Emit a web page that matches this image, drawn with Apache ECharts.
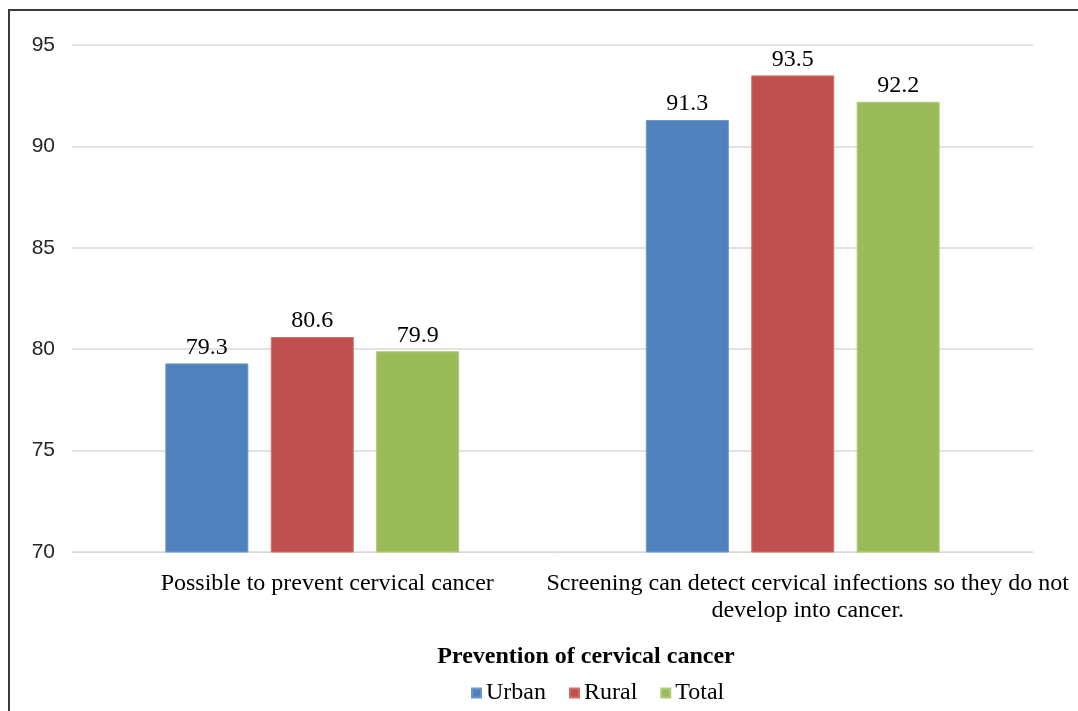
<!DOCTYPE html>
<html>
<head>
<meta charset="utf-8">
<script src="https://cdn.jsdelivr.net/npm/echarts@6/dist/echarts.min.js"></script>
<style>
  html, body { margin: 0; padding: 0; background: #fff; }
  #frame { position: absolute; left: 8px; top: 9px; width: 1200px; height: 800px;
           border-left: 2px solid #3a3a3a; border-top: 2px solid #3a3a3a; }
  #chart { position: absolute; left: 0; top: 0; width: 1078px; height: 711px; }
</style>
</head>
<body>
<div id="frame"></div>
<div id="chart"></div>
<script>
// Share of respondents agreeing with each statement, by residence
const categories = [
  'Possible to prevent cervical cancer',
  'Screening can detect cervical infections so they do not\ndevelop into cancer.'
];
const urban = [79.3, 91.3];
const rural = [80.6, 93.5];
const total = [79.9, 92.2];
const seriesNames = ['Urban', 'Rural', 'Total'];
const seriesColors = ['#4F81BD', '#C0504D', '#9BBB59'];
const seriesBorders = ['#6d97cc', '#d06e6b', '#b0cc78'];
const yTicks = { min: 70, max: 95, interval: 5 };
const axisTitle = 'Prevention of cervical cancer';

const serif = '"Liberation Serif", "Times New Roman", serif';
const chart = echarts.init(document.getElementById('chart'));

const seriesData = [urban, rural, total];
chart.setOption({
  animation: false,
  title: {
    text: axisTitle,
    left: 581, top: 640, textAlign: 'center',
    textStyle: { fontFamily: serif, fontWeight: 'bold', fontSize: 24, color: '#000' }
  },
  legend: {
    data: seriesNames,
    left: 471, top: 681, padding: 0,
    itemWidth: 9, itemHeight: 9, itemGap: 23,
    icon: 'rect',
    textStyle: { fontFamily: serif, fontSize: 24, color: '#000', padding: [2, 0, 0, 0] }
  },
  grid: { left: 72, right: 45, top: 45, bottom: 159 },
  xAxis: {
    type: 'category',
    data: categories,
    axisLine: { show: true, lineStyle: { color: '#d9d9d9', width: 1 } },
    axisTick: { show: false },
    axisLabel: {
      fontFamily: serif, fontSize: 24, color: '#000', margin: 18,
      lineHeight: 27, interval: 0, padding: [0, 0, 0, 30]
    }
  },
  yAxis: {
    type: 'value',
    min: yTicks.min, max: yTicks.max, interval: yTicks.interval,
    axisLine: { show: false },
    axisTick: { show: false },
    axisLabel: { fontFamily: '"Liberation Sans", Arial, sans-serif', fontSize: 21, color: '#262626', margin: 17 },
    splitLine: { lineStyle: { color: '#d9d9d9', width: 1.5 } }
  },
  series: seriesNames.map((name, i) => ({
    name,
    type: 'bar',
    data: seriesData[i],
    barWidth: 83,
    barGap: '27%',
    itemStyle: { color: seriesColors[i], borderColor: seriesBorders[i], borderWidth: 1 },
    label: {
      show: true, position: 'top', distance: 4,
      fontFamily: serif, fontSize: 24, color: '#000',
      formatter: p => p.value.toFixed(1)
    }
  }))
});
</script>
</body>
</html>
